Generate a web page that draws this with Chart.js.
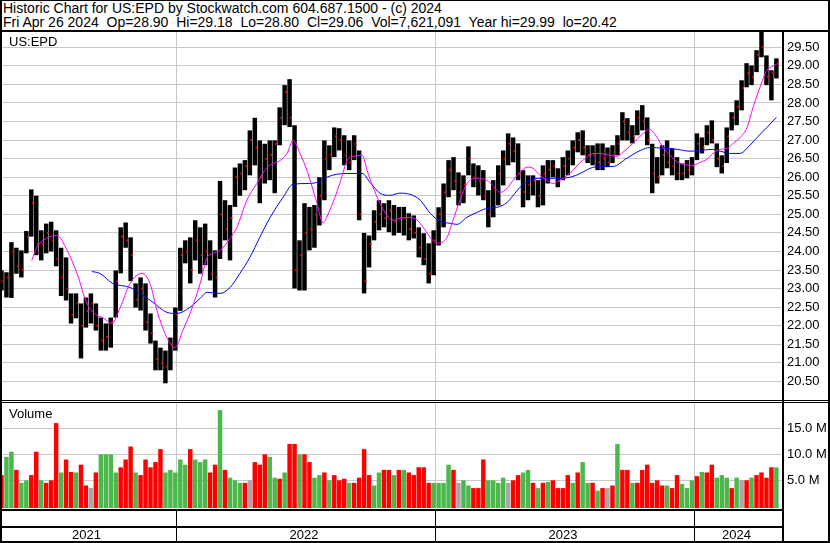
<!DOCTYPE html>
<html>
<head>
<meta charset="utf-8">
<script src="https://cdn.jsdelivr.net/npm/chart.js@4.4.1/dist/chart.umd.min.js"></script>
<style>
  body { margin: 0; background: #fff; }
  #wrap { position: relative; width: 830px; height: 543px; overflow: hidden;
          font-family: "Liberation Sans", Arial, sans-serif; font-size: 13px; color: #000; }
  #wrap canvas { position: absolute; left: 0; }
  .line { position: absolute; background: #000; }
  .txt { position: absolute; white-space: pre; line-height: 14px; }
  #head { font-size: 14px; }
</style>
</head>
<body>
<div id="wrap">
  <div class="txt" id="head" style="left:3px; top:1px;">Historic Chart for US:EPD by Stockwatch.com 604.687.1500 - (c) 2024
Fri Apr 26 2024  Op=28.90  Hi=29.18  Lo=28.80  Cl=29.06  Vol=7,621,091  Year hi=29.99  lo=20.42</div>
  <canvas id="price" width="830" height="368" style="top:32px"></canvas>
  <canvas id="volume" width="830" height="140" style="top:403px"></canvas>
  <div class="txt" style="left:9px; top:35px;">US:EPD</div>
  <div class="txt" style="left:9px; top:407px;">Volume</div>

  <div class="line" style="left:0; top:0; width:830px; height:1px"></div>
  <div class="line" style="left:0; top:0; width:2px; height:543px"></div>
  <div class="line" style="left:828px; top:0; width:2px; height:543px"></div>
  <div class="line" style="left:0; top:541px; width:830px; height:2px"></div>
  <div class="line" style="left:0; top:30px; width:830px; height:2px"></div>
  <div class="line" style="left:782px; top:30px; width:2px; height:513px"></div>
  <div class="line" style="left:0; top:400px; width:830px; height:1px"></div>
  <div class="line" style="left:0; top:402px; width:830px; height:1px"></div>
</div>

<script>
// weekly bars, week 0 = Fri Apr 30 2021, week 156 = Fri Apr 26 2024
const highs = [23.49,23.44,24.25,24.10,24.03,24.55,25.67,25.50,24.57,24.75,
  24.80,24.57,24.10,23.84,22.87,22.87,22.60,22.76,22.87,22.60,
  22.22,22.06,22.22,23.49,24.65,24.78,24.38,23.14,23.30,23.14,
  22.33,21.60,21.41,21.33,21.68,22.49,24.10,24.30,24.38,24.84,
  24.65,24.75,24.30,24.03,25.90,25.38,25.25,26.26,26.37,26.46,
  27.26,27.60,26.99,26.90,26.99,26.99,27.88,28.48,28.64,27.40,
  24.30,25.30,25.20,25.25,26.00,26.99,26.86,27.34,27.32,27.13,
  26.99,27.13,26.72,24.50,24.43,25.11,25.38,25.30,25.38,25.25,
  25.20,25.20,25.03,24.97,24.65,24.49,24.22,24.57,25.19,25.83,
  26.46,26.54,26.13,26.05,26.83,26.37,26.32,26.19,25.65,25.92,
  26.32,26.72,27.18,27.07,26.91,26.19,26.05,26.05,25.92,26.32,
  26.46,26.46,26.24,26.54,26.72,26.99,27.21,27.26,26.86,26.86,
  26.91,26.91,26.80,26.86,27.13,27.75,27.59,27.40,27.80,27.94,
  27.61,26.90,26.54,26.86,26.99,26.78,26.54,26.37,26.46,26.54,
  27.18,27.07,27.40,27.53,26.91,26.59,27.34,27.75,28.07,28.61,
  29.07,29.01,29.42,29.93,29.28,28.88,29.20];
const lows = [22.95,22.76,22.75,23.40,23.30,23.95,24.40,23.90,23.76,23.95,
  24.00,23.60,22.80,22.68,22.06,22.20,21.12,21.95,22.06,21.87,
  21.33,21.33,21.41,22.22,23.41,24.10,23.20,22.49,22.41,21.87,
  21.52,20.80,20.80,20.45,20.80,21.33,22.40,23.68,23.14,23.76,
  23.40,23.63,23.22,22.76,23.80,24.30,23.76,25.20,25.50,25.65,
  26.05,26.32,25.30,25.83,25.92,25.57,26.86,27.40,27.35,23.00,
  22.95,22.95,24.03,24.10,24.70,25.38,26.19,26.54,26.72,26.32,
  26.19,26.46,24.84,22.87,23.57,24.30,24.57,24.65,24.52,24.43,
  24.50,24.43,24.30,24.35,23.84,23.63,23.14,23.36,24.16,24.65,
  25.46,25.65,25.24,25.30,26.05,25.73,25.51,25.38,24.65,24.92,
  25.24,25.78,26.32,26.40,25.92,25.19,25.38,25.51,25.19,25.24,
  25.83,26.00,25.73,25.92,26.05,26.32,26.67,26.59,26.38,26.32,
  26.19,26.19,26.27,26.38,26.59,26.99,26.99,26.91,27.13,27.26,
  26.86,25.57,25.83,26.05,26.24,26.05,25.92,25.92,25.97,26.05,
  26.46,26.64,26.86,26.91,26.27,26.10,26.38,27.26,27.40,27.80,
  28.42,28.48,28.83,29.23,28.48,28.07,28.66];
const closes = [23.20,23.30,24.00,23.60,23.50,24.40,25.30,24.20,24.20,24.50,
  24.30,23.80,23.30,23.00,22.30,22.60,22.00,22.40,22.60,22.00,
  21.60,21.70,22.10,23.20,24.40,24.30,23.90,22.70,23.00,22.10,
  21.80,21.10,21.00,20.90,21.50,22.30,23.90,24.00,23.50,24.30,
  23.90,24.00,23.40,23.30,25.00,24.60,24.90,26.00,26.10,26.30,
  27.00,26.80,26.00,26.50,26.60,26.90,27.60,28.30,27.60,23.50,
  23.90,24.50,24.60,25.00,25.50,26.50,26.60,27.10,27.00,26.60,
  26.40,26.90,25.00,23.20,24.20,24.80,25.00,24.90,25.10,24.80,
  24.90,24.90,24.60,24.50,24.10,23.80,23.40,24.30,25.00,25.60,
  26.20,25.90,25.60,25.80,26.50,26.00,25.90,25.50,25.00,25.70,
  26.10,26.50,26.90,26.70,26.10,25.60,25.80,25.90,25.50,26.10,
  26.20,26.30,25.90,26.30,26.50,26.80,27.00,26.80,26.60,26.60,
  26.40,26.50,26.40,26.60,26.90,27.50,27.20,27.10,27.60,27.50,
  27.00,26.10,26.00,26.60,26.40,26.30,26.10,26.10,26.20,26.30,
  26.90,26.80,27.20,27.00,26.50,26.30,27.10,27.60,27.90,28.40,
  28.80,28.70,29.30,29.50,28.70,28.80,29.06];

// weekly volume in millions, and direction of the week (u up, d down, n unchanged)
const volumes = [6,9.5,10.5,7,4.5,5,6,10.5,5,4.5,
  5,16,6.5,9,6.6,6.5,8,4,3.5,6.5,
  10,10,10,6.5,7.5,9,11.5,6.5,6,9,
  7.5,8.5,11,6.5,7,6.5,9,8,11,9,
  8.5,9,6.5,8,18.5,7,5.5,5,4.5,4.5,
  5,8.5,8,10,9.5,5.5,5.3,6.5,12,12,
  10,10,8.5,5.5,6,6.5,5,6,5,5.3,
  4.5,4.5,5.5,11,6,4,6.5,7,7,6,
  7,7,6.5,6,7.5,7.5,4.5,4.5,4.5,4.5,
  8,7,4.5,5,4,3.5,3.5,9,5,5,
  4.5,5.5,4.5,5,6,6.5,7,4.5,3.5,4.5,
  4.7,5,3.5,3.5,6,4.5,6.5,8.5,4.5,4.5,
  3,3.5,3.5,4,12,7,7,4.5,4.5,7,
  8,4.5,5,4,4,3.5,6,4.3,3.5,5,
  5.8,6.6,6.5,8,5.5,6,5.5,3.5,5.5,5,
  5,5.5,6,6.5,5.5,7.5,7.5];
const directions = ("duuduuddud" + "ddudduddnd" + "uuuudddudd" + "ddduuuuudu" +
  "uudduduuud" + "nddduududd" + "udduududdd" + "udddduuddu" + "duddddduuu" +
  "udnuuddduu" + "uundduudud" + "udddduduud" + "udnduddudd" + "ddddudduuu" +
  "dudduuudun" + "duddddu").split("");

// moving averages as [week, price]
const fastAvg = [[6.1,23.76],[7.1,24.11],[8.4,24.30],[11.2,24.43],[13.2,24.03],[15.2,23.41],
  [17.2,22.60],[19.2,22.28],[20.4,22.22],[22.2,22.06],[23.9,22.49],[25.9,23.14],[28.3,23.41],
  [29.9,23.14],[31.3,22.41],[33.3,21.68],[34.9,21.41],[36.5,21.87],[38.4,22.49],[40.0,23.14],
  [41.4,23.84],[42.6,23.95],[44.0,24.03],[46.0,24.35],[47.4,24.65],[49.4,25.38],[51.4,25.83],
  [53.5,26.27],[56.1,26.45],[57.5,26.64],[58.7,26.99],[60.1,26.64],[61.7,26.10],[63.5,25.30],
  [64.7,24.78],[66.1,25.11],[68.1,25.83],[69.6,26.45],[70.8,26.56],[72.6,26.59],[73.6,26.19],
  [74.8,25.73],[76.2,25.30],[77.6,24.97],[78.8,24.84],[80.2,24.89],[82.2,24.92],[83.7,24.84],
  [84.9,24.65],[86.3,24.38],[87.7,24.22],[89.7,24.38],[90.9,24.84],[92.3,25.38],[93.7,25.83],
  [95.7,25.97],[97.7,25.92],[98.9,25.78],[100.4,25.59],[101.8,25.70],[103.0,25.92],[104.4,26.13],
  [105.8,26.27],[107.0,26.24],[108.4,26.05],[109.8,25.92],[111.0,25.83],[112.4,25.92],[113.9,26.05],
  [115.1,26.19],[116.5,26.40],[117.9,26.54],[119.1,26.64],[120.5,26.64],[122.5,26.59],[123.9,26.56],
  [125.1,26.67],[127.1,26.91],[129.2,27.18],[130.4,27.29],[132.0,27.07],[133.2,26.80],[134.6,26.59],
  [136.6,26.37],[139.2,26.32],[140.6,26.40],[142.0,26.48],[143.2,26.64],[144.7,26.75],[146.1,26.78],
  [147.3,26.91],[148.7,27.07],[150.1,27.34],[151.3,27.88],[152.7,28.42],[154.1,28.88],[155.3,28.99],
  [156.0,29.04]];
const slowAvg = [[18.2,23.46],[19.8,23.41],[22.4,23.14],[25.9,23.03],[27.9,22.87],[30.5,22.63],
  [33.3,22.36],[35.3,22.33],[37.9,22.49],[40.0,22.74],[41.4,22.90],[44.0,22.87],[46.0,23.03],
  [48.0,23.41],[50.0,23.84],[52.0,24.38],[54.1,24.92],[56.7,25.46],[58.7,25.81],[61.5,25.83],
  [63.5,25.86],[65.5,26.00],[67.5,26.08],[69.6,26.10],[72.6,26.10],[74.2,25.86],[76.2,25.57],
  [78.2,25.51],[80.2,25.57],[82.2,25.54],[84.3,25.38],[86.3,25.03],[88.3,24.81],[90.3,24.76],
  [91.7,24.73],[93.7,24.92],[95.7,25.05],[97.7,25.16],[99.8,25.19],[101.8,25.32],[103.0,25.51],
  [104.4,25.73],[106.4,25.92],[108.4,25.97],[112.4,25.97],[114.5,26.00],[116.5,26.10],[118.5,26.24],
  [120.5,26.29],[123.1,26.29],[125.9,26.51],[128.6,26.72],[130.6,26.80],[133.2,26.78],[136.0,26.75],
  [138.6,26.70],[140.6,26.72],[143.2,26.75],[144.7,26.70],[146.7,26.64],[148.7,26.64],[150.1,26.78],
  [152.1,27.07],[154.1,27.34],[156.0,27.61]];

const priceTicks = [20.5,21,21.5,22,22.5,23,23.5,24,24.5,25,25.5,26,26.5,27,27.5,28,28.5,29,29.5];
const volumeTicks = [5, 10, 15];
const yearStartDays = [246, 611, 976];   // days after Apr 30 2021
const yearLabels = ["2021", "2022", "2023", "2024"];

const yearStarts = yearStartDays.map(d => d / 7);
const X_MIN = -0.3, X_MAX = 157.13;
const VOL_FLOOR = -0.33;
const GRID = "#c8c8c8";
const FONT = { family: '"Liberation Sans", Arial, sans-serif', size: 13 };
const dirColor = { u: "#4cb84c", d: "#ff0000", n: "#a8a8a8" };

Chart.defaults.font.family = FONT.family;
Chart.defaults.font.size = FONT.size;
Chart.defaults.color = "#000";

function xScale(bandHeight) {
    return {
        type: "linear", min: X_MIN, max: X_MAX, offset: false,
        grid: { offset: false, color: GRID, drawTicks: false },
        border: { display: false },
        ticks: { display: false },
        afterBuildTicks: s => { s.ticks = yearStarts.map(value => ({ value })); },
        afterFit: s => { s.height = bandHeight; s.paddingLeft = 0; s.paddingRight = 0; }
    };
}

function yScale(min, max, ticks, fmt) {
    return {
        position: "right", min, max,
        grid: { color: GRID, drawTicks: false },
        border: { display: false },
        ticks: { padding: 5, color: "#000", font: FONT, callback: fmt },
        afterBuildTicks: s => { s.ticks = ticks.map(value => ({ value })); },
        afterFit: s => { s.width = 48; s.paddingTop = 0; s.paddingBottom = 0; }
    };
}

// year row under the volume panel
const yearBand = {
    id: "yearBand",
    afterDraw(chart) {
        const { ctx, chartArea } = chart;
        const x = chart.scales.x;
        const top = chartArea.bottom;
        ctx.save();
        ctx.fillStyle = "#000";
        ctx.fillRect(0, top + 1, chartArea.right, 2);
        ctx.fillRect(0, top + 18, chartArea.right, 2);
        yearStarts.forEach(v => {
            ctx.fillRect(Math.round(x.getPixelForValue(v)), top + 3, 1, 33);
        });
        const edges = [x.min, ...yearStarts, x.max];
        ctx.font = '13px "Liberation Sans", Arial, sans-serif';
        ctx.textAlign = "center";
        ctx.textBaseline = "alphabetic";
        yearLabels.forEach((label, i) => {
            const a = x.getPixelForValue(edges[i]);
            const b = x.getPixelForValue(edges[i + 1]);
            ctx.fillText(label, (a + b) / 2 - 1.5, top + 31.3);
        });
        ctx.restore();
    }
};

const common = {
    responsive: false,
    animation: false,
    devicePixelRatio: 1,
    layout: { padding: 0, autoPadding: false },
    plugins: { legend: { display: false }, tooltip: { enabled: false } }
};

new Chart(document.getElementById("price"), {
    type: "bar",
    data: {
        datasets: [
            {
                type: "line", order: 0,
                data: fastAvg.map(([x, y]) => ({ x, y })),
                borderColor: "#ff00ff", borderWidth: 1, pointRadius: 0,
                cubicInterpolationMode: "monotone"
            },
            {
                type: "line", order: 1,
                data: slowAvg.map(([x, y]) => ({ x, y })),
                borderColor: "#0000ff", borderWidth: 1, pointRadius: 0,
                cubicInterpolationMode: "monotone"
            },
            {
                type: "scatter", order: 2, showLine: false,
                data: closes.map((c, i) => ({ x: i + 0.3, y: c })),
                pointStyle: "rect", pointRadius: 1.3, pointBorderWidth: 0,
                pointBackgroundColor: "#ff0000"
            },
            {
                type: "bar", order: 3,
                data: highs.map((h, i) => ({ x: i, y: [lows[i], h] })),
                backgroundColor: "#000",
                barPercentage: 0.9, categoryPercentage: 1
            }
        ]
    },
    options: {
        ...common,
        scales: {
            x: xScale(0),
            y: yScale(20.0, 29.91, priceTicks, v => v.toFixed(2))
        }
    }
});

new Chart(document.getElementById("volume"), {
    type: "bar",
    data: {
        datasets: [{
            data: volumes.map((v, i) => ({ x: i, y: [VOL_FLOOR, v] })),
            backgroundColor: directions.map(d => dirColor[d]),
            barPercentage: 0.9, categoryPercentage: 1
        }]
    },
    options: {
        ...common,
        scales: {
            x: xScale(35),
            y: yScale(VOL_FLOOR, 19.87, volumeTicks, v => v.toFixed(1) + " M")
        }
    },
    plugins: [yearBand]
});
</script>
</body>
</html>
